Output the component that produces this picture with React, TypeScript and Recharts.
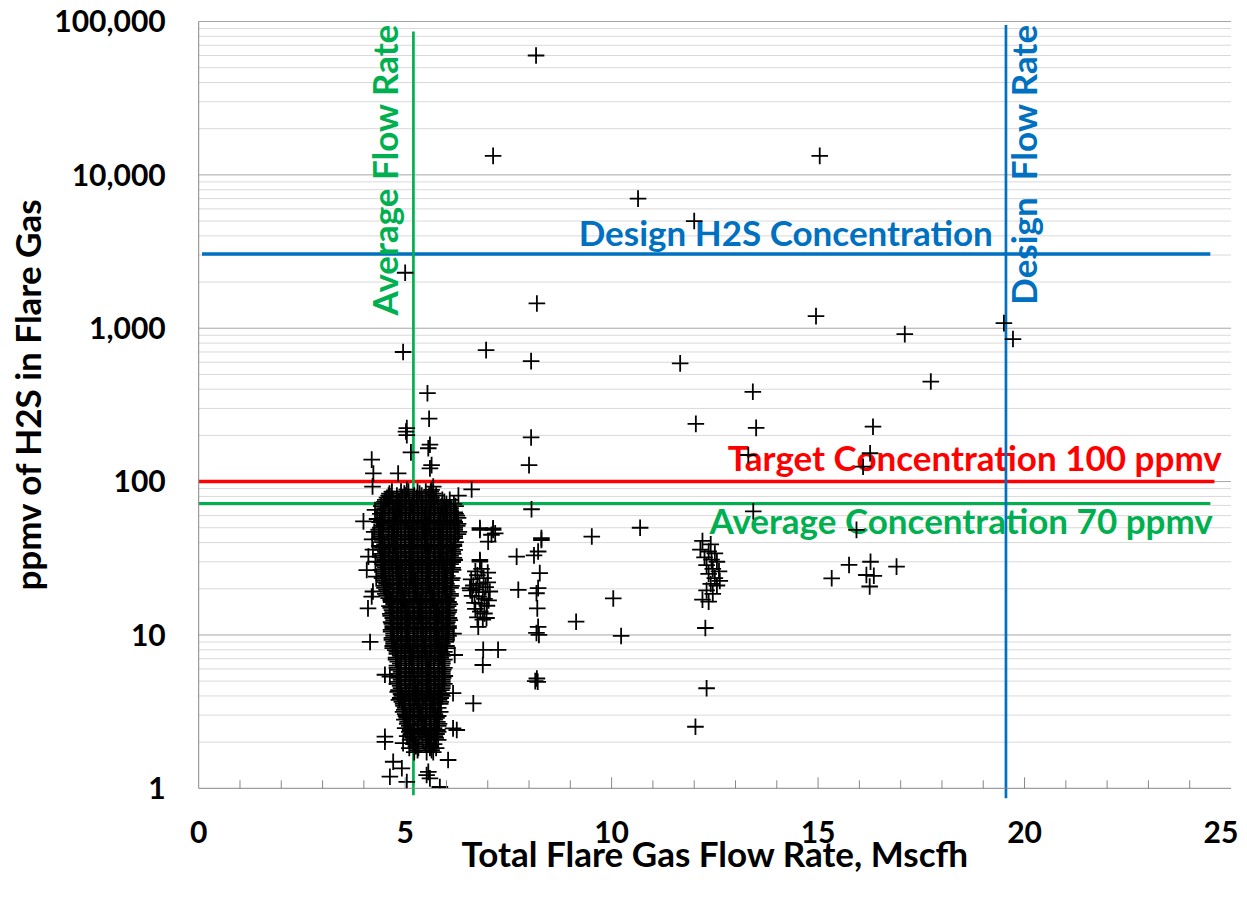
import { Label, ReferenceLine, Scatter, ScatterChart, XAxis, YAxis } from "recharts";

const FONT = "Lato, 'Open Sans', sans-serif";
const GREEN = "#00B050";
const BLUE = "#0070C0";
const RED = "#FF0000";
const AXIS = "#868686";

// axis ticks
const xTicks = [0, 1, 2, 3, 4, 5, 6, 7, 8, 9, 10, 11, 12, 13, 14, 15, 16, 17, 18, 19, 20, 21, 22, 23, 24, 25];
const yTicks = [1, 10, 100, 1000, 10000, 100000];
const majorGrid = [10, 100, 1000, 10000, 100000];
const minorGrid = [
  2, 3, 4, 5, 6, 7, 8, 9,
  20, 30, 40, 50, 60, 70, 80, 90,
  200, 300, 400, 500, 600, 700, 800, 900,
  2000, 3000, 4000, 5000, 6000, 7000, 8000, 9000,
  20000, 30000, 40000, 50000, 60000, 70000, 80000, 90000,
];

// reference values
const avgFlowRate = 5.2;
const designFlowRate = 19.55;
const designH2S = 3050;
const targetConc = 100;
const avgConc = 72;

// scattered high readings [flow, ppmv]
const highReadings: [number, number][] = [
  [8.17, 60000], [7.13, 13300], [15.04, 13300], [10.64, 7000], [12.0, 5000],
  [5.0, 2300], [8.19, 1450], [14.95, 1200], [19.5, 1080], [19.72, 850],
  [17.1, 915], [4.95, 700], [6.96, 720], [8.05, 610], [11.66, 590],
  [17.73, 449], [13.42, 385], [13.5, 224], [12.04, 238], [16.33, 228],
  [16.26, 153], [16.09, 125], [13.31, 149], [8.05, 194], [8.0, 128],
];

// readings just above / around the main cluster
const nearCluster: [number, number][] = [
  [5.54, 377], [5.58, 257], [5.02, 212], [5.04, 223], [5.04, 201], [5.56, 165], [5.6, 174],
  [5.14, 155], [5.64, 128], [5.6, 122], [4.19, 139], [4.23, 113], [4.83, 113],
  [4.21, 92.8], [5.68, 92.8], [5.64, 88.3], [5.04, 88.5], [4.63, 80.1], [6.61, 89], [6.29, 81],
  [3.99, 55], [4.27, 65.3], [4.11, 32.4], [4.07, 26.5], [4.1, 14.9], [4.19, 17.8],
  [4.15, 9.0], [4.22, 19.2], [4.51, 5.5], [4.63, 5.35], [4.51, 2.01], [4.63, 1.19],
  [4.92, 1.35], [5.04, 1.1], [4.95, 1.97], [4.71, 1.49], [4.51, 2.17], [5.52, 1.22],
  [5.6, 1.16], [5.56, 1.28], [5.84, 1.02], [6.04, 1.53], [6.16, 2.46], [6.25, 2.4],
  [6.65, 3.58], [6.16, 4.17], [6.2, 7.4], [6.17, 10.2], [6.81, 30.1], [6.57, 20.2],
  [6.81, 48.4], [7.13, 49.6], [7.18, 46], [7.01, 40.6], [6.81, 30.8],
  [4.25, 47], [4.22, 36], [4.28, 30], [4.3, 24], [4.32, 57], [4.2, 42],
];

// small cluster near 7 Mscfh
const clusterSeven: [number, number][] = [
  [6.85, 27], [6.7, 26], [7.0, 25.5], [6.6, 23], [6.75, 24.5], [6.9, 23.5], [7.0, 22],
  [6.65, 21], [6.8, 21.5], [6.95, 20.5], [6.58, 19.5], [6.72, 19.8], [6.88, 19],
  [7.05, 19.2], [6.62, 18], [6.78, 17.8], [6.92, 17.2], [7.02, 16.8], [6.68, 16.2],
  [6.85, 16], [6.98, 15.5], [6.7, 14.8], [6.82, 14.2], [6.92, 13.8], [6.75, 13],
  [6.88, 12.6], [6.97, 12.9], [6.77, 11.3], [6.89, 8.0], [7.25, 8.0], [6.88, 6.37],
];

// column near 8 Mscfh
const columnEight: [number, number][] = [
  [8.06, 66], [8.3, 42.8], [8.22, 35], [8.12, 33], [8.26, 25.3], [8.22, 20.2],
  [8.18, 18.7], [8.2, 14.9], [8.22, 11.3], [8.18, 10.3], [8.24, 10], [8.19, 5.2],
  [8.21, 4.95], [8.15, 5.0], [7.7, 32.4], [7.74, 19.7], [7.13, 48.4], [7.09, 45], [6.81, 49.7],
];

// mid-range readings
const midRange: [number, number][] = [
  [10.69, 50], [9.52, 43.8], [8.3, 41.6], [10.04, 17.3], [9.14, 12.2], [10.23, 9.85],
  [13.43, 64], [15.93, 48.4],
];

// cluster near 12.4 Mscfh
const clusterTwelve: [number, number][] = [
  [12.2, 41], [12.4, 39], [12.15, 36], [12.35, 35], [12.5, 34], [12.25, 32],
  [12.42, 31], [12.55, 30], [12.3, 28.5], [12.45, 27], [12.6, 26], [12.35, 25],
  [12.5, 23.5], [12.62, 22.5], [12.4, 21.5], [12.55, 21], [12.3, 19.5], [12.45, 18.5],
  [12.2, 17], [12.35, 16.5], [12.27, 11.1], [12.3, 4.49], [12.03, 2.52],
];

// cluster near 16 Mscfh
const clusterSixteen: [number, number][] = [
  [15.33, 23.4], [15.75, 28.6], [16.27, 30], [16.17, 24.6], [16.35, 24.3], [16.25, 20.7], [16.9, 27.9],
];

// main cluster, rows of [ppmv, flow values]
const mainCluster: [number, number[]][] = [
  [86, [4.68, 4.9, 5.08, 5.3, 5.5, 5.62]],
  [81, [4.6, 4.8, 5.0, 5.22, 5.4, 5.58, 5.75]],
  [76, [4.52, 4.7, 4.92, 5.1, 5.3, 5.52, 5.7, 5.9, 6.08]],
  [71.5, [4.48, 4.62, 4.82, 5.02, 5.2, 5.42, 5.6, 5.8, 6.0, 6.18]],
  [67, [4.5, 4.72, 4.9, 5.12, 5.3, 5.5, 5.72, 5.9, 6.1]],
  [63, [4.45, 4.6, 4.82, 5.0, 5.22, 5.4, 5.62, 5.8, 6.02, 6.2]],
  [60, [4.5, 4.7, 4.92, 5.1, 5.32, 5.5, 5.7, 5.92, 6.1, 6.25]],
  [56, [4.42, 4.6, 4.8, 5.02, 5.2, 5.4, 5.6, 5.82, 6.0, 6.18]],
  [53, [4.48, 4.7, 4.9, 5.1, 5.3, 5.52, 5.7, 5.9, 6.1, 6.28]],
  [50, [4.4, 4.6, 4.82, 5.0, 5.2, 5.42, 5.6, 5.8, 6.02, 6.2]],
  [47, [4.45, 4.68, 4.9, 5.1, 5.3, 5.5, 5.72, 5.92, 6.1, 6.3]],
  [44, [4.42, 4.6, 4.8, 5.0, 5.22, 5.4, 5.62, 5.8, 6.0, 6.2]],
  [41.7, [4.45, 4.68, 4.9, 5.1, 5.3, 5.5, 5.7, 5.9, 6.1]],
  [39, [4.5, 4.6, 4.8, 5.0, 5.2, 5.4, 5.62, 5.82, 6.02, 6.18]],
  [37, [4.45, 4.7, 4.9, 5.12, 5.3, 5.52, 5.7, 5.92, 6.12]],
  [34.8, [4.52, 4.62, 4.82, 5.0, 5.22, 5.42, 5.6, 5.8, 6.0, 6.15]],
  [32.8, [4.45, 4.7, 4.9, 5.1, 5.3, 5.5, 5.72, 5.9, 6.1]],
  [30.8, [4.5, 4.6, 4.8, 5.02, 5.2, 5.4, 5.6, 5.82, 6.02, 6.2]],
  [29, [4.45, 4.68, 4.9, 5.1, 5.32, 5.5, 5.7, 5.92, 6.1]],
  [27.4, [4.52, 4.6, 4.8, 5.0, 5.2, 5.42, 5.62, 5.8, 6.0, 6.15]],
  [25.8, [4.45, 4.7, 4.92, 5.1, 5.3, 5.52, 5.7, 5.9, 6.1]],
  [24.3, [4.5, 4.62, 4.82, 5.0, 5.22, 5.4, 5.6, 5.82, 6.02]],
  [22.8, [4.48, 4.7, 4.9, 5.12, 5.3, 5.5, 5.72, 5.9, 6.12]],
  [21.5, [4.55, 4.62, 4.8, 5.02, 5.2, 5.42, 5.6, 5.8, 6.0]],
  [20.3, [4.5, 4.7, 4.92, 5.1, 5.3, 5.5, 5.7, 5.92, 6.1]],
  [19.1, [4.6, 4.8, 5.0, 5.22, 5.4, 5.62, 5.82, 6.02]],
  [18, [4.55, 4.7, 4.9, 5.1, 5.3, 5.52, 5.7, 5.9, 6.1]],
  [16.9, [4.65, 4.82, 5.0, 5.2, 5.42, 5.6, 5.8, 6.0]],
  [15.9, [4.72, 4.9, 5.1, 5.3, 5.5, 5.7, 5.9, 6.08]],
  [15, [4.65, 4.8, 5.02, 5.2, 5.4, 5.62, 5.8, 6.0]],
  [14.1, [4.7, 4.92, 5.1, 5.32, 5.5, 5.7, 5.92, 6.05]],
  [13.3, [4.65, 4.82, 5.0, 5.22, 5.42, 5.6, 5.82, 6.0]],
  [12.5, [4.72, 4.9, 5.12, 5.3, 5.5, 5.72, 5.9, 6.08]],
  [11.8, [4.68, 4.8, 5.02, 5.2, 5.4, 5.6, 5.8, 6.0]],
  [11.1, [4.7, 4.92, 5.1, 5.3, 5.52, 5.7, 5.92, 6.05]],
  [10.5, [4.66, 4.82, 5.0, 5.22, 5.4, 5.62, 5.8, 6.0]],
  [9.85, [4.72, 4.9, 5.1, 5.3, 5.5, 5.7, 5.9, 6.05]],
  [9.3, [4.68, 4.8, 5.02, 5.2, 5.42, 5.6, 5.82, 6.0]],
  [8.75, [4.72, 4.92, 5.12, 5.3, 5.5, 5.72, 5.9]],
  [8.2, [4.7, 4.82, 5.0, 5.22, 5.4, 5.62, 5.8, 6.02]],
  [7.75, [4.8, 5.0, 5.2, 5.42, 5.6, 5.8, 5.95]],
  [7.3, [4.9, 5.1, 5.3, 5.5, 5.72, 5.9]],
  [6.9, [4.78, 5.0, 5.2, 5.4, 5.62, 5.8, 5.95]],
  [6.5, [4.88, 5.1, 5.32, 5.5, 5.7, 5.9]],
  [6.1, [4.8, 5.02, 5.2, 5.42, 5.6, 5.82, 5.95]],
  [5.75, [4.9, 5.1, 5.3, 5.52, 5.7, 5.9]],
  [5.4, [4.82, 5.0, 5.22, 5.4, 5.62, 5.8, 5.96]],
  [5.1, [4.9, 5.12, 5.3, 5.5, 5.72, 5.9]],
  [4.8, [4.8, 5.0, 5.2, 5.42, 5.6, 5.82, 5.95]],
  [4.5, [4.9, 5.1, 5.32, 5.5, 5.7, 5.9]],
  [4.25, [4.82, 5.02, 5.2, 5.4, 5.62, 5.8]],
  [4.0, [4.92, 5.1, 5.3, 5.52, 5.7, 5.9]],
  [3.77, [4.85, 5.0, 5.22, 5.42, 5.6, 5.82]],
  [3.55, [4.95, 5.12, 5.32, 5.5, 5.72, 5.85]],
  [3.35, [5.0, 5.2, 5.42, 5.62, 5.8]],
  [3.15, [4.95, 5.1, 5.3, 5.52, 5.7, 5.85]],
  [2.96, [5.02, 5.22, 5.4, 5.6, 5.8]],
  [2.8, [4.98, 5.12, 5.32, 5.5, 5.72]],
  [2.63, [5.05, 5.2, 5.42, 5.62, 5.82]],
  [2.47, [5.0, 5.3, 5.5, 5.7]],
  [2.33, [5.1, 5.22, 5.4, 5.6, 5.8]],
  [2.19, [5.05, 5.32, 5.52, 5.72]],
  [2.07, [5.12, 5.42, 5.62, 5.8]],
  [1.94, [5.2, 5.5, 5.7]],
  [1.83, [5.1, 5.32, 5.6, 5.75]],
  [1.72, [5.22, 5.52, 5.68]],
];

// readings lying between the rows above
const mainClusterFill: [number, number[]][] = [
  [83.5, [4.62, 4.98, 5.35, 5.68]],
  [78.5, [4.56, 4.92, 5.28, 5.64]],
  [73.7, [4.5, 4.85, 5.2, 5.58, 5.95]],
  [69.2, [4.42, 4.78, 5.15, 5.5, 5.88, 6.22]],
  [65, [4.5, 4.86, 5.22, 5.6, 5.98]],
  [61.5, [4.4, 4.76, 5.12, 5.48, 5.85, 6.22]],
  [58, [4.48, 4.84, 5.2, 5.56, 5.94, 6.28]],
  [54.5, [4.38, 4.74, 5.1, 5.46, 5.84, 6.2]],
  [51.5, [4.46, 4.82, 5.18, 5.55, 5.92, 6.26]],
  [48.5, [4.36, 4.72, 5.08, 5.45, 5.82, 6.2]],
  [45.5, [4.42, 4.8, 5.16, 5.52, 5.9, 6.28]],
  [42.8, [4.38, 4.74, 5.1, 5.48, 5.85, 6.2]],
  [40.3, [4.44, 4.8, 5.16, 5.54, 5.9, 6.22]],
  [38, [4.38, 4.75, 5.12, 5.48, 5.86, 6.18]],
  [35.9, [4.45, 4.82, 5.18, 5.55, 5.92, 6.2]],
  [33.8, [4.4, 4.76, 5.12, 5.5, 5.86, 6.16]],
  [31.8, [4.46, 4.82, 5.2, 5.56, 5.92, 6.18]],
  [29.9, [4.42, 4.78, 5.14, 5.5, 5.88, 6.15]],
  [28.2, [4.48, 4.84, 5.2, 5.56, 5.94]],
  [26.6, [4.42, 4.78, 5.15, 5.52, 5.9, 6.16]],
  [25, [4.5, 4.86, 5.22, 5.58, 5.95]],
  [23.5, [4.44, 4.8, 5.16, 5.54, 5.9, 6.14]],
  [22.1, [4.52, 4.88, 5.24, 5.6, 5.98]],
  [20.9, [4.48, 4.84, 5.2, 5.56, 5.92, 6.12]],
  [19.7, [4.55, 4.9, 5.26, 5.62, 6.0]],
  [18.5, [4.52, 4.88, 5.24, 5.6, 5.96, 6.1]],
  [17.4, [4.6, 4.95, 5.3, 5.66, 6.02]],
  [16.4, [4.66, 5.0, 5.36, 5.72, 6.05]],
  [15.4, [4.62, 4.98, 5.34, 5.7, 6.04]],
  [14.5, [4.68, 5.04, 5.4, 5.76, 6.06]],
  [13.7, [4.64, 5.0, 5.36, 5.72, 6.02]],
  [12.9, [4.7, 5.06, 5.42, 5.78, 6.06]],
  [12.1, [4.66, 5.02, 5.38, 5.74, 6.02]],
  [11.4, [4.7, 5.06, 5.42, 5.78, 6.05]],
  [10.8, [4.66, 5.02, 5.38, 5.74, 6.0]],
  [10.2, [4.72, 5.08, 5.44, 5.8, 6.04]],
  [9.57, [4.68, 5.04, 5.4, 5.76, 6.0]],
  [9.02, [4.72, 5.08, 5.44, 5.8, 5.98]],
  [8.47, [4.7, 5.06, 5.42, 5.78, 6.0]],
  [7.97, [4.76, 5.12, 5.48, 5.84]],
  [7.52, [4.8, 5.16, 5.52, 5.88]],
  [7.1, [4.78, 5.14, 5.5, 5.86]],
  [6.7, [4.82, 5.18, 5.54, 5.9]],
  [6.3, [4.8, 5.16, 5.52, 5.88]],
  [5.92, [4.84, 5.2, 5.56, 5.92]],
  [5.57, [4.82, 5.18, 5.54, 5.9]],
  [5.25, [4.86, 5.22, 5.58, 5.92]],
  [4.95, [4.82, 5.18, 5.54, 5.9]],
  [4.65, [4.88, 5.24, 5.6, 5.9]],
  [4.37, [4.84, 5.2, 5.56, 5.88]],
  [4.12, [4.9, 5.26, 5.62, 5.88]],
  [3.88, [4.88, 5.24, 5.6, 5.86]],
  [3.66, [4.92, 5.28, 5.64, 5.86]],
  [3.45, [4.96, 5.32, 5.68]],
  [3.25, [4.98, 5.34, 5.7]],
  [3.05, [5.0, 5.36, 5.72]],
  [2.88, [5.04, 5.4, 5.76]],
  [2.71, [5.06, 5.42, 5.78]],
  [2.55, [5.1, 5.46, 5.8]],
  [2.4, [5.12, 5.48, 5.78]],
  [2.26, [5.14, 5.5, 5.76]],
  [2.13, [5.18, 5.54, 5.74]],
  [2.0, [5.22, 5.58]],
  [1.88, [5.26, 5.62]],
  [1.77, [5.3, 5.64]],
];

const points = [
  ...[...mainCluster, ...mainClusterFill].flatMap(([y, xs]) => xs.map((x) => ({ x, y }))),
  ...[...highReadings, ...nearCluster, ...clusterSeven, ...columnEight, ...midRange, ...clusterTwelve, ...clusterSixteen].map(
    ([x, y]) => ({ x, y })
  ),
];

const Cross = (props: any) => {
  const { cx, cy } = props;
  if (cx == null || cy == null) return <g />;
  return (
    <path
      d={`M${cx - 8.3},${cy}H${cx + 8.3}M${cx},${cy - 8.3}V${cy + 8.3}`}
      stroke="#000"
      strokeWidth={1.8}
      fill="none"
    />
  );
};

const XTick = (props: any) => {
  const { x, y, payload } = props;
  const v = payload.value;
  const major = v % 5 === 0;
  // like the spreadsheet, the last label is pulled inside the chart edge
  const tx = v === 25 ? x - 10 : x;
  return (
    <g>
      {v > 0 && v < 25 && <line x1={x} x2={x} y1={y} y2={y - (major ? 11 : 8)} stroke={AXIS} strokeWidth={1} />}
      {major && (
        <text x={tx} y={y + 55} textAnchor="middle" fontFamily={FONT} fontWeight={700} fontSize={30} fill="#000">
          {v}
        </text>
      )}
    </g>
  );
};

// label for a reference line: horizontal ones measured from the right end, vertical ones from the top
function lineLabel(text: string, color: string, dx: number, dy: number, anchor: "start" | "middle" | "end", vertical = false) {
  return (props: any) => {
    const vb = props.viewBox || {};
    const x = vertical ? vb.x + dx : vb.x + vb.width + dx;
    const y = vb.y + dy;
    return (
      <text
        x={x}
        y={y}
        fill={color}
        fontFamily={FONT}
        fontWeight={700}
        fontSize={35}
        textAnchor={anchor}
        style={{ whiteSpace: "pre" }}
        transform={vertical ? `rotate(-90 ${x} ${y})` : undefined}
      >
        {text}
      </text>
    );
  };
}

export default function App() {
  return (
    // cancel the page's 8px body margin so the chart fills the window
    <div style={{ fontFamily: FONT, margin: -8 }}>
      <ScatterChart width={1247} height={899} margin={{ top: 21.5, right: 16, bottom: 20.7, left: 8.7 }}>
        {minorGrid.map((v) => (
          <ReferenceLine key={`mi${v}`} y={v} stroke="#D9D9D9" strokeWidth={1} />
        ))}
        {majorGrid.map((v) => (
          <ReferenceLine key={`ma${v}`} y={v} stroke="#A6A6A6" strokeWidth={1} />
        ))}

        <XAxis
          type="number"
          dataKey="x"
          domain={[0, 25]}
          ticks={xTicks}
          interval={0}
          tick={<XTick />}
          tickLine={false}
          tickSize={0}
          tickMargin={0}
          height={90}
          axisLine={{ stroke: AXIS, strokeWidth: 1 }}
        >
          <Label
            content={(props: any) => {
              const vb = props.viewBox;
              return (
                <text x={vb.x + vb.width / 2} y={vb.y + 79} textAnchor="middle" fontFamily={FONT} fontWeight={700} fontSize={35} fill="#000">
                  Total Flare Gas Flow Rate, Mscfh
                </text>
              );
            }}
          />
        </XAxis>
        <YAxis
          type="number"
          dataKey="y"
          scale="log"
          domain={[1, 100000]}
          allowDataOverflow
          ticks={yTicks}
          interval={0}
          width={190}
          tickLine={false}
          tickSize={0}
          tickMargin={33}
          tickFormatter={(v: number) => v.toLocaleString("en-US")}
          tick={{ fontFamily: FONT, fontWeight: 700, fontSize: 30, fill: "#000" }}
          axisLine={{ stroke: AXIS, strokeWidth: 1 }}
        >
          <Label
            content={() => (
              <text x={41} y={395} transform="rotate(-90 41 395)" textAnchor="middle" fontFamily={FONT} fontWeight={700} fontSize={35} fill="#000">
                ppmv of H2S in Flare Gas
              </text>
            )}
          />
        </YAxis>

        <Scatter data={points} shape={<Cross />} isAnimationActive={false} />

        <ReferenceLine
          segment={[{ x: 0.08, y: designH2S }, { x: 24.5, y: designH2S }]}
          stroke={BLUE}
          strokeWidth={3.5}
          ifOverflow="visible"
          label={lineLabel("Design H2S Concentration", BLUE, -424.6, -8, "middle")}
        />
        <ReferenceLine
          segment={[{ x: 0, y: targetConc }, { x: 24.6, y: targetConc }]}
          stroke={RED}
          strokeWidth={3.5}
          ifOverflow="visible"
          label={lineLabel("Target Concentration 100 ppmv", RED, 7.3, -10.5, "end")}
        />
        <ReferenceLine
          segment={[{ x: 0, y: avgConc }, { x: 24.5, y: avgConc }]}
          stroke={GREEN}
          strokeWidth={3}
          ifOverflow="visible"
          label={lineLabel("Average Concentration 70 ppmv", GREEN, 2.5, 31, "end")}
        />
        <ReferenceLine
          segment={[{ x: avgFlowRate, y: 0.9 }, { x: avgFlowRate, y: 86000 }]}
          stroke={GREEN}
          strokeWidth={2.7}
          ifOverflow="visible"
          label={lineLabel("Average Flow Rate", GREEN, -15.5, -6.8, "end", true)}
        />
        <ReferenceLine
          segment={[{ x: designFlowRate, y: 0.86 }, { x: designFlowRate, y: 95000 }]}
          stroke={BLUE}
          strokeWidth={2.7}
          ifOverflow="visible"
          label={lineLabel("Design  Flow Rate", BLUE, 30.6, 0, "end", true)}
        />
      </ScatterChart>
    </div>
  );
}
